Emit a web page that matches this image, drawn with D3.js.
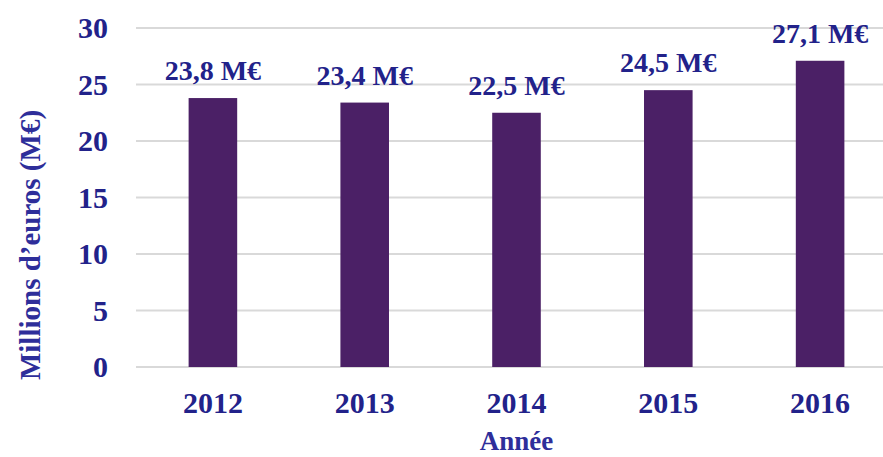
<!DOCTYPE html>
<html>
<head>
<meta charset="utf-8">
<script src="https://cdn.jsdelivr.net/npm/d3@7"></script>
<style>
  html, body { margin: 0; padding: 0; background: #fff; }
  svg { display: block; font-family: "Liberation Serif", "Times New Roman", serif; font-weight: bold; }
</style>
</head>
<body>
<div id="chart"></div>
<script>
// Data
const years = ['2012', '2013', '2014', '2015', '2016'];
const revenue = [23.8, 23.4, 22.5, 24.5, 27.1];
const yTicks = [0, 5, 10, 15, 20, 25, 30];

const width = 883, height = 457;
const textColor = '#22228a';
const barColor = '#4b2066';

const svg = d3.select('#chart').append('svg')
  .attr('width', width)
  .attr('height', height);

const x = d3.scaleBand()
  .domain(years)
  .range([137, 896])
  .paddingInner(0.68)
  .paddingOuter(0.34);

const y = d3.scaleLinear()
  .domain([0, 30])
  .range([367, 28]);

// Gridlines
svg.append('g')
  .selectAll('line')
  .data(yTicks)
  .enter().append('line')
  .attr('x1', 136)
  .attr('x2', width)
  .attr('y1', d => y(d))
  .attr('y2', d => y(d))
  .attr('stroke', '#d9d9d9')
  .attr('stroke-width', 2);

// Y tick labels
svg.append('g')
  .selectAll('text')
  .data(yTicks)
  .enter().append('text')
  .attr('x', 108)
  .attr('y', d => y(d))
  .attr('dy', '0.34em')
  .attr('text-anchor', 'end')
  .attr('font-size', '30px')
  .attr('fill', textColor)
  .text(d => d);

// Bars
const data = years.map((yr, i) => ({ year: yr, value: revenue[i] }));
svg.append('g')
  .selectAll('rect')
  .data(data)
  .enter().append('rect')
  .attr('x', d => x(d.year))
  .attr('y', d => y(d.value))
  .attr('width', x.bandwidth())
  .attr('height', d => y(0) - y(d.value))
  .attr('fill', barColor);

// Value labels
svg.append('g')
  .selectAll('text')
  .data(data)
  .enter().append('text')
  .attr('x', d => x(d.year) + x.bandwidth() / 2)
  .attr('y', d => y(d.value) - 18)
  .attr('text-anchor', 'middle')
  .attr('font-size', '28px')
  .attr('fill', textColor)
  .text(d => d.value.toFixed(1).replace('.', ',') + ' M€');

// X tick labels
svg.append('g')
  .selectAll('text')
  .data(years)
  .enter().append('text')
  .attr('x', d => x(d) + x.bandwidth() / 2)
  .attr('y', 413)
  .attr('text-anchor', 'middle')
  .attr('font-size', '30px')
  .attr('fill', textColor)
  .text(d => d);

// Axis titles
svg.append('text')
  .attr('x', x('2014') + x.bandwidth() / 2)
  .attr('y', 450)
  .attr('text-anchor', 'middle')
  .attr('font-size', '27px')
  .attr('fill', '#2e2e9a')
  .text('Année');

svg.append('text')
  .attr('transform', 'translate(40,245) rotate(-90)')
  .attr('text-anchor', 'middle')
  .attr('font-size', '29px')
  .attr('fill', '#2e2e9a')
  .text('Millions d\u2019euros (M€)');
</script>
</body>
</html>
